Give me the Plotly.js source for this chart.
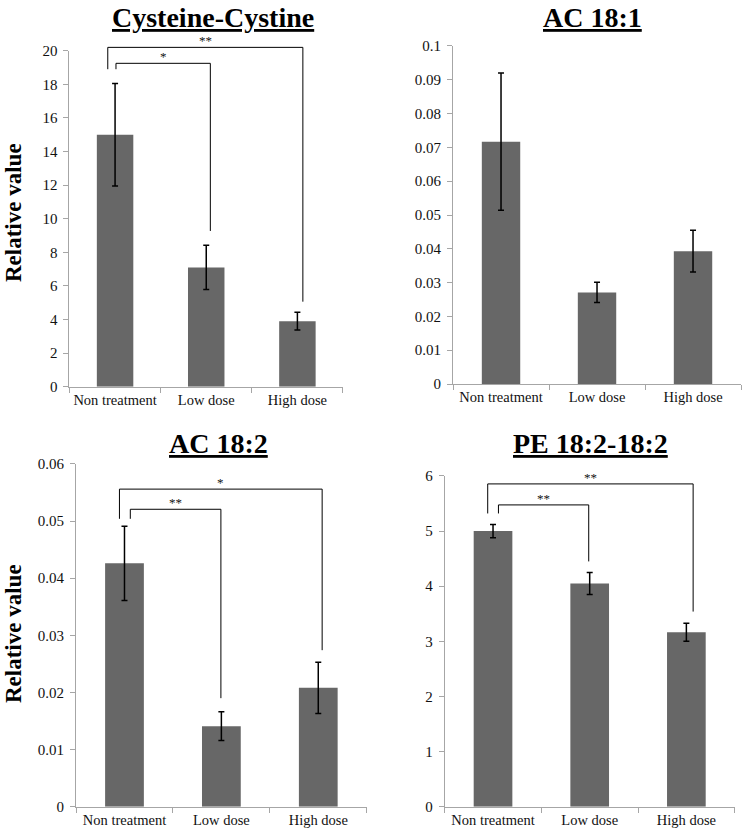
<!DOCTYPE html>
<html>
<head>
<meta charset="utf-8">
<script src="https://cdn.plot.ly/plotly-3.0.1.min.js"></script>
<style>html,body{margin:0;padding:0;background:#fff;}#chart{width:744px;height:833px;}</style>
</head>
<body>
<div id="chart"></div>
<script>
// ---------- DATA ----------
const categories = ['Non treatment', 'Low dose', 'High dose'];
const panelTitles = ['Cysteine-Cystine', 'AC 18:1', 'AC 18:2', 'PE 18:2-18:2'];

const cysValues   = [15.0, 7.1, 3.9];
const cysErrors   = [3.05, 1.32, 0.53];
const ac181Values = [0.0717, 0.0271, 0.0393];
const ac181Errors = [0.0203, 0.0030, 0.0062];
const ac182Values = [0.0426, 0.0141, 0.0208];
const ac182Errors = [0.0065, 0.0025, 0.0045];
const peValues    = [5.0, 4.05, 3.165];
const peErrors    = [0.12, 0.20, 0.165];

const yMax   = [20, 0.1, 0.06, 6];
const yDtick = [2, 0.01, 0.01, 1];

// significance comparisons: [from category, to category, label]
const cysSig   = [[0, 1, '*'], [0, 2, '**']];
const ac181Sig = [];
const ac182Sig = [[0, 1, '**'], [0, 2, '*']];
const peSig    = [[0, 1, '**'], [0, 2, '**']];

// ---------- BRACKET GEOMETRY (drawing only) ----------
// per comparison: [left x offset, right x offset, top level, left foot, right foot]
const cysGeom   = [[0.01, 0.045, 19.25, 18.9, 9.27], [-0.08, 0.06, 20.2, 18.9, 5.06]];
const ac182Geom = [[0.06, -0.005, 0.05207, 0.0504, 0.019], [-0.052, 0.04, 0.0556, 0.0504, 0.0274]];
const peGeom    = [[0.056, -0.01, 5.475, 5.32, 4.45], [-0.055, 0.07, 5.856, 5.32, 3.54]];

const panels = [
  {vals: cysValues, errs: cysErrors, sig: cysSig, geom: cysGeom,
   xd: [0.0934, 0.4610], yd: [0.5358, 0.9391], ytitle: true},
  {vals: ac181Values, errs: ac181Errors, sig: ac181Sig, geom: [],
   xd: [0.6089, 0.9960], yd: [0.5390, 0.9448], ytitle: false},
  {vals: ac182Values, errs: ac182Errors, sig: ac182Sig, geom: ac182Geom,
   xd: [0.1022, 0.4929], yd: [0.0316, 0.4430], ytitle: true},
  {vals: peValues, errs: peErrors, sig: peSig, geom: peGeom,
   xd: [0.5977, 0.9875], yd: [0.0316, 0.4286], ytitle: false}
];
// title centre x, top y (px)
const titlePos = [[213, 0], [592, 0], [218, 426], [590, 426]];

const FONT = 'Liberation Serif';
const W = 744, H = 833;
const axisGray = '#a6a6a6';

const traces = [];
const layout = {
  width: W, height: H,
  margin: {l: 0, r: 0, t: 0, b: 0},
  paper_bgcolor: '#fff', plot_bgcolor: '#fff',
  showlegend: false,
  bargap: 0.6,
  font: {family: FONT, color: '#111'},
  shapes: [], annotations: []
};

panels.forEach((p, i) => {
  const n = i === 0 ? '' : String(i + 1);
  const xa = 'x' + n, ya = 'y' + n;
  traces.push({
    type: 'bar', x: categories, y: p.vals, xaxis: xa, yaxis: ya,
    marker: {color: '#676767', line: {width: 0}},
    error_y: {type: 'data', array: p.errs, visible: true, color: '#000', thickness: 1.5, width: 3},
    hoverinfo: 'skip'
  });
  layout['xaxis' + n] = {
    domain: p.xd, anchor: ya, type: 'category', range: [-0.5, 2.5],
    showline: true, linecolor: axisGray, linewidth: 1,
    ticks: 'outside', tickson: 'boundaries', ticklen: 5, tickcolor: axisGray,
    tickangle: 0, automargin: false,
    showgrid: false, zeroline: false, fixedrange: true,
    tickfont: {family: FONT, size: 14.5, color: '#111'}
  };
  layout['yaxis' + n] = {
    domain: p.yd, anchor: xa, range: [0, yMax[i]], dtick: yDtick[i], tick0: 0,
    showline: true, linecolor: axisGray, linewidth: 1,
    ticks: 'outside', ticklen: 5, tickcolor: axisGray, ticklabelstandoff: 3,
    automargin: false,
    showgrid: false, zeroline: false, fixedrange: true,
    tickfont: {family: FONT, size: 15, color: '#111'}
  };
  // brackets
  p.sig.forEach((s, k) => {
    const g = p.geom[k];
    const xL = (s[0] + g[0] + 0.5) / 3, xR = (s[1] + g[1] + 0.5) / 3;
    const top = g[2] / yMax[i], fL = g[3] / yMax[i], fR = g[4] / yMax[i];
    layout.shapes.push({
      type: 'path', xref: xa + ' domain', yref: ya + ' domain',
      path: `M ${xL} ${fL} L ${xL} ${top} L ${xR} ${top} L ${xR} ${fR}`,
      line: {color: '#000', width: 1}
    });
    layout.annotations.push({
      xref: xa + ' domain', yref: ya + ' domain', x: (xL + xR) / 2, y: top,
      text: s[2], showarrow: false, xanchor: 'center', yanchor: 'bottom', yshift: -3,
      font: {family: FONT, size: 13, color: '#111'}
    });
  });
  // panel title
  layout.annotations.push({
    xref: 'paper', yref: 'paper', x: titlePos[i][0] / W, y: 1 - titlePos[i][1] / H,
    xanchor: 'center', yanchor: 'top', showarrow: false,
    text: '<b><u>' + panelTitles[i] + '</u></b>',
    font: {family: FONT, size: 28, color: '#000'}
  });
  if (p.ytitle) {
    const cy = i === 0 ? 213 : 634;
    layout.annotations.push({
      xref: 'paper', yref: 'paper', x: 13 / W, y: 1 - cy / H,
      xanchor: 'center', yanchor: 'middle', showarrow: false, textangle: -90,
      text: '<b>Relative value</b>',
      font: {family: FONT, size: 23, color: '#000'}
    });
  }
});

Plotly.newPlot('chart', traces, layout, {staticPlot: true, displayModeBar: false});
</script>
</body>
</html>
